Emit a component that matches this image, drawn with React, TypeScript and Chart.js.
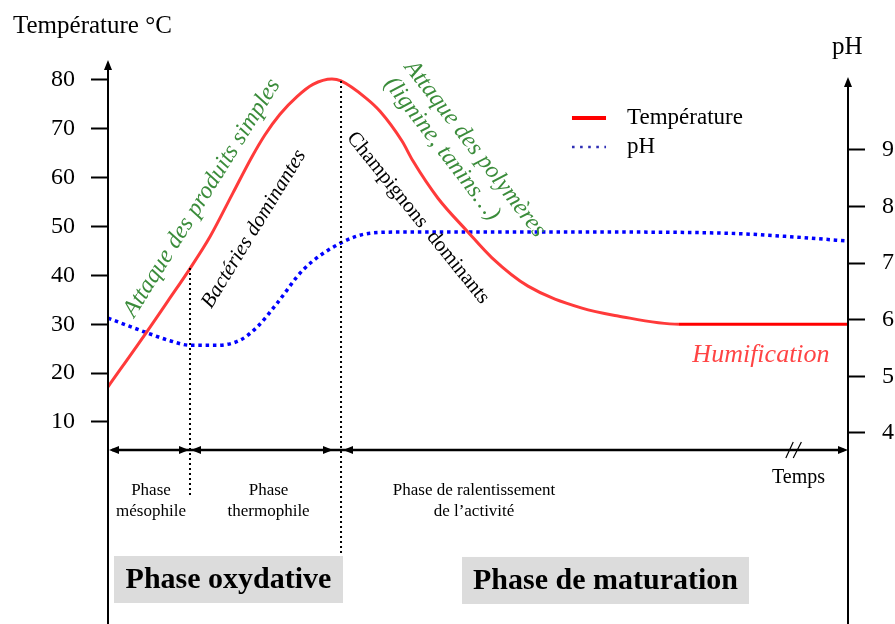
import { useEffect, useRef } from 'react';
import { Chart, registerables } from 'chart.js';

Chart.register(...registerables);

// ---------- data ----------
const tempTime = [0, 5.27, 8.11, 11.08, 13.78, 16.89, 19.46, 21.22, 23.24, 25.54, 27.7, 30.27, 31.49, 34.86, 36.76, 39.73, 41.22, 44.59, 48.51, 51.89, 56.76, 64.05, 68.92, 77.16, 100];
const tempValues = [17.2, 28.5, 34.8, 41.4, 47.9, 56.9, 64.3, 68.8, 73.0, 76.6, 79.1, 80.2, 79.8, 76.3, 73.6, 67.5, 63.4, 55.8, 49.1, 43.6, 37.8, 33.3, 31.7, 30.0, 30.0];

const phTime = [0, 5.27, 8.38, 11.08, 14.73, 17.84, 20.14, 22.84, 26.35, 31.35, 35.41, 39.46, 66.5, 83.5, 93.2, 100];
const phValues = [6.03, 5.77, 5.63, 5.55, 5.55, 5.64, 5.87, 6.29, 6.88, 7.35, 7.53, 7.55, 7.55, 7.53, 7.46, 7.39];

const tempTicks = [10, 20, 30, 40, 50, 60, 70, 80];
const phTicks = [4, 5, 6, 7, 8, 9];

const phaseBounds = [11.08, 31.49];
const phaseLabels = [['Phase', 'mésophile'], ['Phase', 'thermophile'], ['Phase de ralentissement', 'de l’activité']];
const phaseLabelCenters = [5.81, 21.7, 49.46];
const bigPhases = ['Phase oxydative', 'Phase de maturation'];

const W = 895;
const H = 624;
const SERIF = "'Liberation Serif', 'Times New Roman', Times, serif";
const GREEN = '#3b8c3b';

type Note = { text: string; t: number; v: number; angle: number; font: string; color: string };
const notes: Note[] = [
  { text: 'Attaque des produits simples', t: 12.7, v: 55.85, angle: -58, font: `italic 24px ${SERIF}`, color: GREEN },
  { text: 'Bactéries dominantes', t: 19.73, v: 49.5, angle: -58.5, font: `italic 21px ${SERIF}`, color: '#000' },
  { text: 'Champignons  dominants', t: 41.89, v: 51.75, angle: 51, font: `21px ${SERIF}`, color: '#000' },
  { text: 'Attaque des polymères', t: 49.59, v: 65.88, angle: 52.3, font: `italic 24px ${SERIF}`, color: GREEN },
  { text: '(lignine, tanins…)', t: 45.14, v: 65.88, angle: 52.3, font: `italic 24px ${SERIF}`, color: GREEN },
  { text: 'Humification', t: 88.24, v: 23.71, angle: 0, font: `italic 26px ${SERIF}`, color: '#ff4444' },
];

function arrow(ctx: CanvasRenderingContext2D, x: number, y: number, dir: 'up' | 'left' | 'right') {
  const L = 10, hw = 4;
  ctx.beginPath();
  if (dir === 'up') {
    ctx.moveTo(x, y); ctx.lineTo(x - hw, y + L); ctx.lineTo(x + hw, y + L);
  } else if (dir === 'left') {
    ctx.moveTo(x, y); ctx.lineTo(x + L, y - hw); ctx.lineTo(x + L, y + hw);
  } else {
    ctx.moveTo(x, y); ctx.lineTo(x - L, y - hw); ctx.lineTo(x - L, y + hw);
  }
  ctx.closePath();
  ctx.fill();
}

const decor = {
  id: 'compostDecor',
  afterDatasetsDraw(chart: any) {
    const ctx: CanvasRenderingContext2D = chart.ctx;
    const xs = chart.scales.x;
    const yT = chart.scales.yT;
    const yP = chart.scales.yP;
    const X = (t: number) => xs.getPixelForValue(t);
    const Y = (v: number) => yT.getPixelForValue(v);
    const ca = chart.chartArea;
    ctx.save();
    ctx.fillStyle = '#000';
    ctx.strokeStyle = '#000';

    // y axes with arrows
    ctx.lineWidth = 2;
    ctx.beginPath();
    ctx.moveTo(ca.left, ca.top + 4); ctx.lineTo(ca.left, ca.bottom);
    const rTop = yP.getPixelForValue(10.29);
    ctx.moveTo(ca.right, rTop + 4); ctx.lineTo(ca.right, ca.bottom);
    ctx.stroke();
    arrow(ctx, ca.left, ca.top, 'up');
    arrow(ctx, ca.right, rTop, 'up');

    // time axis
    const axisY = Y(4.27);
    ctx.lineWidth = 2.5;
    ctx.beginPath();
    ctx.moveTo(X(0) + 4, axisY); ctx.lineTo(X(100) - 4, axisY);
    ctx.stroke();
    arrow(ctx, X(0) + 1, axisY, 'left');
    arrow(ctx, X(phaseBounds[0]) - 1, axisY, 'right');
    arrow(ctx, X(phaseBounds[0]) + 1, axisY, 'left');
    arrow(ctx, X(phaseBounds[1]) - 8, axisY, 'right');
    arrow(ctx, X(phaseBounds[1]) + 2, axisY, 'left');
    arrow(ctx, X(100), axisY, 'right');

    // break marks
    ctx.lineWidth = 1.2;
    ctx.beginPath();
    ctx.moveTo(X(91.6), axisY + 8); ctx.lineTo(X(92.6), axisY - 8);
    ctx.moveTo(X(92.6), axisY + 8); ctx.lineTo(X(93.7), axisY - 8);
    ctx.stroke();

    // dotted phase separators
    ctx.lineWidth = 2;
    ctx.setLineDash([2, 3]);
    ctx.beginPath();
    ctx.moveTo(X(phaseBounds[0]), Y(41.5)); ctx.lineTo(X(phaseBounds[0]), Y(-4.94));
    ctx.moveTo(X(phaseBounds[1]), Y(79.8)); ctx.lineTo(X(phaseBounds[1]), Y(-17.22));
    ctx.stroke();
    ctx.setLineDash([]);

    // phase labels under axis
    ctx.font = `17px ${SERIF}`;
    ctx.textAlign = 'center';
    ctx.textBaseline = 'alphabetic';
    phaseLabels.forEach((lines, i) => {
      ctx.fillText(lines[0], X(phaseLabelCenters[i]), Y(-4.94));
      ctx.fillText(lines[1], X(phaseLabelCenters[i]), Y(-9.24));
    });
    ctx.font = `20px ${SERIF}`;
    ctx.fillText('Temps', X(93.32), Y(-2.49));

    // big phase boxes
    const boxes = [
      { t0: 0.81, t1: 31.76, v0: -17.43, v1: -27.05 },
      { t0: 47.84, t1: 86.62, v0: -17.63, v1: -27.25 },
    ];
    ctx.font = `bold 30px ${SERIF}`;
    ctx.textBaseline = 'middle';
    boxes.forEach((b, i) => {
      ctx.fillStyle = '#dcdcdc';
      ctx.fillRect(X(b.t0), Y(b.v0), X(b.t1) - X(b.t0), Y(b.v1) - Y(b.v0));
      ctx.fillStyle = '#000';
      ctx.fillText(bigPhases[i], (X(b.t0) + X(b.t1)) / 2, (Y(b.v0) + Y(b.v1)) / 2 + 1);
    });

    // annotations
    notes.forEach((n) => {
      ctx.save();
      ctx.translate(X(n.t), Y(n.v));
      ctx.rotate((n.angle * Math.PI) / 180);
      ctx.font = n.font;
      ctx.fillStyle = n.color;
      ctx.textAlign = 'center';
      ctx.textBaseline = 'middle';
      ctx.fillText(n.text, 0, 0);
      ctx.restore();
    });

    // axis titles
    ctx.fillStyle = '#000';
    ctx.textAlign = 'left';
    ctx.textBaseline = 'alphabetic';
    ctx.font = `25px ${SERIF}`;
    ctx.fillText('Température °C', 13, Y(89.62));
    ctx.fillText('pH', ca.right - 16, Y(85.3));

    // legend
    const ds = chart.data.datasets;
    ctx.font = `23px ${SERIF}`;
    ctx.lineWidth = 4;
    ctx.strokeStyle = '#ff0000';
    ctx.beginPath();
    ctx.moveTo(X(62.7), Y(72.22)); ctx.lineTo(X(67.3), Y(72.22));
    ctx.stroke();
    ctx.fillText(ds[0].label, X(70.14), Y(70.99));
    ctx.lineWidth = 2.6;
    ctx.strokeStyle = '#2f2fb5';
    ctx.setLineDash([2.6, 5.5]);
    ctx.beginPath();
    ctx.moveTo(X(62.7), Y(66.29)); ctx.lineTo(X(67.3), Y(66.29));
    ctx.stroke();
    ctx.setLineDash([]);
    ctx.fillText(ds[1].label, X(70.14), Y(65.06));
    ctx.restore();
  },
};

export default function App() {
  const ref = useRef<HTMLCanvasElement>(null);
  useEffect(() => {
    const canvas = ref.current;
    if (!canvas) return;
    const lastSeg = tempTime.length - 2;
    const chart = new Chart(canvas, {
      type: 'line',
      data: {
        datasets: [
          {
            label: 'Température',
            data: tempTime.map((t, i) => ({ x: t, y: tempValues[i] })),
            yAxisID: 'yT',
            borderColor: '#ff3a3a',
            borderWidth: 3,
            pointRadius: 0,
            cubicInterpolationMode: 'monotone',
            segment: { borderColor: (c: any) => (c.p0DataIndex === lastSeg ? '#ff0000' : '#ff3a3a') },
          },
          {
            label: 'pH',
            data: phTime.map((t, i) => ({ x: t, y: phValues[i] })),
            yAxisID: 'yP',
            borderColor: '#0000ff',
            borderWidth: 3.5,
            borderDash: [3.5, 3.8],
            pointRadius: 0,
            cubicInterpolationMode: 'monotone',
          },
        ],
      } as any,
      options: {
        responsive: false,
        animation: false,
        layout: { padding: { top: 60, bottom: 0, left: 0, right: 0 } },
        plugins: { legend: { display: false }, tooltip: { enabled: false }, title: { display: false } },
        scales: {
          x: { type: 'linear', min: 0, max: 100, display: false },
          yT: {
            type: 'linear',
            position: 'left',
            min: -31.35,
            max: 84.09,
            afterBuildTicks: (s: any) => { s.ticks = tempTicks.map((v) => ({ value: v })); },
            afterFit: (s: any) => { s.width = 108; s.paddingTop = 0; s.paddingBottom = 0; },
            grid: { drawOnChartArea: false, tickLength: 17, tickWidth: 2, tickColor: '#000', color: '#000' },
            border: { display: false },
            ticks: { font: { family: SERIF, size: 24 }, color: '#000', padding: 16, autoSkip: false },
          },
          yP: {
            type: 'linear',
            position: 'right',
            min: 0.6254,
            max: 10.59,
            afterBuildTicks: (s: any) => { s.ticks = phTicks.map((v) => ({ value: v })); },
            afterFit: (s: any) => { s.width = W - 848; s.paddingTop = 0; s.paddingBottom = 0; },
            grid: { drawOnChartArea: false, tickLength: 17, tickWidth: 2, tickColor: '#000', color: '#000' },
            border: { display: false },
            ticks: { font: { family: SERIF, size: 24 }, color: '#000', padding: 17, autoSkip: false },
          },
        },
      } as any,
      plugins: [decor],
    });
    return () => chart.destroy();
  }, []);
  return (
    <div style={{ position: 'absolute', left: 0, top: 0, width: W, height: H, background: '#fff' }}>
      <canvas ref={ref} width={W} height={H} style={{ width: W, height: H, display: 'block' }} />
    </div>
  );
}
